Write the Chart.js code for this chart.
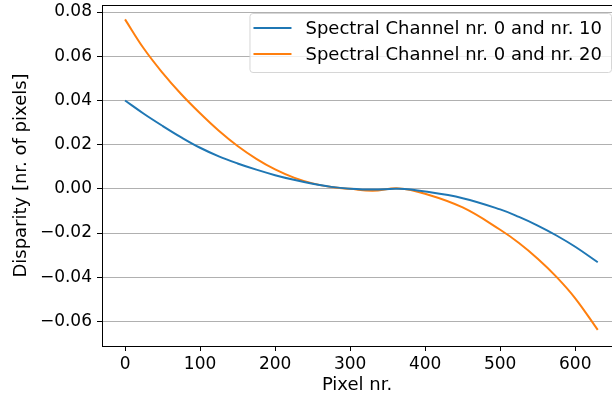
<!DOCTYPE html>
<html>
<head>
<meta charset="utf-8">
<script src="https://cdn.jsdelivr.net/npm/chart.js@4.4.1/dist/chart.umd.min.js"></script>
<style>
  html, body { margin: 0; padding: 0; background: #fff; }
</style>
</head>
<body>
<canvas id="disparityChart" width="612" height="398"></canvas>
<script>
  // values
  const pixelNr = [0, 25, 50, 75, 100, 125, 150, 175, 200, 225, 250, 275, 300, 330, 365, 400, 450, 500, 525, 550, 575, 600, 630];
  const channel10 = [0.0400, 0.0340, 0.0285, 0.0233, 0.0186, 0.0147, 0.0115, 0.0087, 0.0062, 0.0041, 0.0023, 0.0009, 0.0001, -0.0003, 0.0000, -0.0012, -0.0042, -0.0093, -0.0127, -0.0166, -0.0211, -0.0262, -0.0332];
  const channel20 = [0.0767, 0.0635, 0.0525, 0.0428, 0.0342, 0.0263, 0.0194, 0.0136, 0.0088, 0.0051, 0.0025, 0.0008, 0.0000, -0.0008, 0.0002, -0.0022, -0.0084, -0.0185, -0.0245, -0.0316, -0.0398, -0.0495, -0.0638];
  const seriesLabels = ["Spectral Channel nr. 0 and nr. 10", "Spectral Channel nr. 0 and nr. 20"];
  const xTicks = [0, 100, 200, 300, 400, 500, 600];
  const yTicks = [-0.06, -0.04, -0.02, 0.00, 0.02, 0.04, 0.06, 0.08];

  const FONT = "'DejaVu Sans', sans-serif";
  const BLUE = "#1f77b4";
  const ORANGE = "#ff7f0e";

  Chart.defaults.font.family = FONT;
  Chart.defaults.font.size = 17;
  Chart.defaults.color = "#000";

  const toPoints = (values) => values.map((y, i) => ({ x: pixelNr[i], y }));
  const fmtY = (v) => (v < -1e-9 ? "\u2212" : "") + Math.abs(v).toFixed(2);

  // top spine + matplotlib style legend inside the plot
  const frameAndLegend = {
    id: "frameAndLegend",
    afterDatasetsDraw(chart) {
      const { ctx, chartArea } = chart;
      ctx.save();
      ctx.strokeStyle = "#000";
      ctx.lineWidth = 1;
      ctx.beginPath();
      ctx.moveTo(chartArea.left, chartArea.top + 0.5);
      ctx.lineTo(chartArea.right, chartArea.top + 0.5);
      ctx.stroke();

      ctx.font = `18px ${FONT}`;
      const textW = Math.max(...chart.data.datasets.map((d) => ctx.measureText(d.label).width));
      const boxW = 4 + 38 + 14 + textW + 9;
      const boxH = 59;
      const boxX = chartArea.right - 1 - boxW;
      const boxY = chartArea.top + 8;

      ctx.beginPath();
      ctx.roundRect(boxX + 0.5, boxY + 0.5, boxW, boxH, 3);
      ctx.fillStyle = "rgba(255,255,255,0.8)";
      ctx.fill();
      ctx.strokeStyle = "#d6d6d6";
      ctx.stroke();

      chart.data.datasets.forEach((d, i) => {
        const cy = boxY + 15 + i * 26;
        ctx.strokeStyle = d.borderColor;
        ctx.lineWidth = 2;
        ctx.beginPath();
        ctx.moveTo(boxX + 4, cy);
        ctx.lineTo(boxX + 42, cy);
        ctx.stroke();
        ctx.fillStyle = "#000";
        ctx.textAlign = "left";
        ctx.textBaseline = "middle";
        ctx.fillText(d.label, boxX + 56, cy + 1);
      });
      ctx.restore();
    }
  };

  new Chart(document.getElementById("disparityChart"), {
    type: "line",
    data: {
      datasets: [
        { label: seriesLabels[0], data: toPoints(channel10), borderColor: BLUE },
        { label: seriesLabels[1], data: toPoints(channel20), borderColor: ORANGE }
      ].map((d) => ({
        ...d,
        borderWidth: 2,
        pointRadius: 0,
        fill: false,
        tension: 0.4
      }))
    },
    options: {
      responsive: false,
      animation: false,
      layout: { padding: { top: 5, right: 0, bottom: 0, left: 0 } },
      plugins: { legend: { display: false }, tooltip: { enabled: false } },
      scales: {
        x: {
          type: "linear",
          min: -30.7,
          max: 649,
          afterBuildTicks: (scale) => { scale.ticks = xTicks.map((value) => ({ value })); },
          afterFit: (scale) => {
            scale.height = 52;
            scale.paddingLeft = 0;
            scale.paddingRight = 0;
          },
          grid: { drawOnChartArea: false, drawTicks: true, tickLength: 5, tickColor: "#000" },
          border: { display: true, color: "#000", width: 1 },
          ticks: { padding: 3, maxRotation: 0, autoSkip: false },
          title: { display: true, text: "Pixel nr.", font: { size: 18 }, padding: { top: 0, bottom: 2 } }
        },
        y: {
          min: -0.0711,
          max: 0.0832,
          afterBuildTicks: (scale) => { scale.ticks = yTicks.map((value) => ({ value })); },
          afterFit: (scale) => {
            scale.width = 102;
            scale.paddingTop = 0;
            scale.paddingBottom = 0;
          },
          grid: { color: "#b0b0b0", lineWidth: 1, tickLength: 5, tickColor: "#000" },
          border: { display: true, color: "#000", width: 1 },
          ticks: { padding: 5, callback: fmtY, autoSkip: false },
          title: { display: true, text: "Disparity [nr. of pixels]", font: { size: 18 }, padding: { top: 11, bottom: 0 } }
        }
      }
    },
    plugins: [frameAndLegend]
  });
</script>
</body>
</html>
